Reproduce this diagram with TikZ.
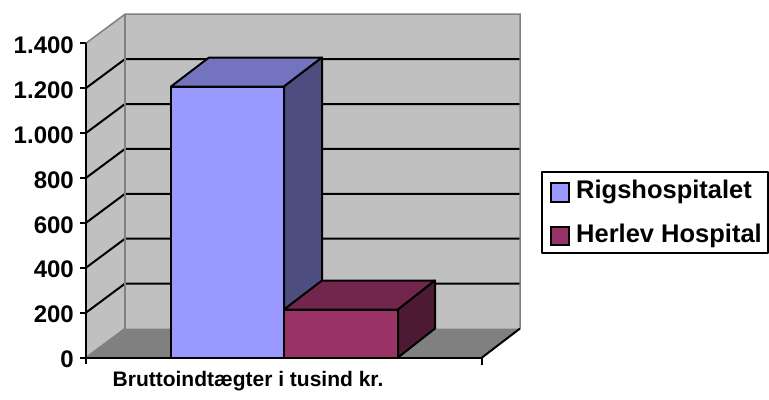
\documentclass[tikz,border=0pt]{standalone}
\usepackage{fontspec}
\setmainfont{Liberation Sans}
\definecolor{wallgray}{HTML}{C0C0C0}
\definecolor{floorgray}{HTML}{808080}
\definecolor{edgegray}{HTML}{808080}
\definecolor{bluefront}{HTML}{9999FF}
\definecolor{bluetop}{HTML}{7373C0}
\definecolor{blueside}{HTML}{4D4D80}
\definecolor{redfront}{HTML}{993366}
\definecolor{redtop}{HTML}{73264D}
\definecolor{redside}{HTML}{4D1A33}
\tikzset{
  blk/.style={draw=black, line width=2bp, line join=round},
  gridln/.style={draw=black, line width=2bp},
  edgeln/.style={draw=edgegray, line width=1.5bp},
  ticklbl/.style={anchor=east, inner sep=0pt, font=\fontsize{24bp}{27bp}\selectfont\bfseries},
  legtxt/.style={anchor=west, inner sep=0pt, font=\fontsize{25.5bp}{28bp}\selectfont\bfseries},
  titletxt/.style={inner sep=0pt, font=\fontsize{21bp}{25bp}\selectfont\bfseries},
  legsq/.style={draw=black, line width=2bp}
}
\begin{document}
\begin{tikzpicture}[x=1bp,y=-1bp]
\useasboundingbox (0,0) rectangle (769,399);
% walls
\fill[wallgray] (86,357.5) -- (86,43.2) -- (125,14.2) -- (125,328.5) -- cycle;
\fill[wallgray] (125,14.2) rectangle (520,328.5);
\fill[floorgray] (86,357.5) -- (125,328.5) -- (520,328.5) -- (482,357.5) -- cycle;
% gridlines
\foreach \v in {200,400,600,800,1000,1200} {
  \pgfmathsetmacro{\yy}{357.5-0.2245*\v}
  \pgfmathsetmacro{\yb}{\yy-29}
  \draw[gridln] (86,\yy) -- (125,\yb) -- (520,\yb);
}
% gray edges
\draw[edgeln] (86,43.2) -- (125,14.2) -- (520,14.2) -- (520,328.5);
\draw[edgeln] (125,14.2) -- (125,328.5);
\draw[edgeln] (86,357.5) -- (125,328.5);
% floor right edge
\draw[blk] (482,357.5) -- (520,328.5);
% axis
\draw[blk] (86,43.2) -- (86,364);
\draw[blk] (86,357.5) -- (482,357.5);
\draw[blk] (482,357.5) -- (482,365);
\foreach \v in {0,200,400,600,800,1000,1200,1400} {
  \pgfmathsetmacro{\yy}{357.5-0.2245*\v}
  \draw[blk] (80,\yy) -- (86,\yy);
}
% tick labels
\node[ticklbl] (l0) at (74,359.5) {0};
\node[ticklbl] (l200) at (74,314.6) {200};
\node[ticklbl] (l400) at (74,269.7) {400};
\node[ticklbl] (l600) at (74,224.8) {600};
\node[ticklbl] (l800) at (74,179.9) {800};
\node[ticklbl] (l1000) at (74,135.0) {1.000};
\node[ticklbl] (l1200) at (74,90.1) {1.200};
\node[ticklbl] (l1400) at (74,45.2) {1.400};
% bar 1
\filldraw[blk, fill=bluefront] (171,357.5) rectangle (284,86.5);
\filldraw[blk, fill=bluetop] (171,86.5) -- (209,57.5) -- (322,57.5) -- (284,86.5) -- cycle;
\filldraw[blk, fill=blueside] (284,86.5) -- (322,57.5) -- (322,328.5) -- (284,357.5) -- cycle;
% bar 2
\filldraw[blk, fill=redfront] (284,357.5) rectangle (398,309.5);
\filldraw[blk, fill=redtop] (284,309.5) -- (322,280.5) -- (435,280.5) -- (398,309.5) -- cycle;
\filldraw[blk, fill=redside] (398,309.5) -- (435,280.5) -- (435,328.5) -- (398,357.5) -- cycle;
% title
\node[titletxt] (title) at (248,381) {Bruttoindtægter i tusind kr.};
% legend
\draw[blk, fill=white] (541.5,171.5) rectangle (767.5,253);
\filldraw[legsq, fill=bluefront] (550.5,183) rectangle (569,201.5);
\filldraw[legsq, fill=redfront] (550.5,226.5) rectangle (569,245);
\node[legtxt] (lg1) at (576,192) {Rigshospitalet};
\node[legtxt] (lg2) at (576,236) {Herlev Hospital};
\end{tikzpicture}
\end{document}
